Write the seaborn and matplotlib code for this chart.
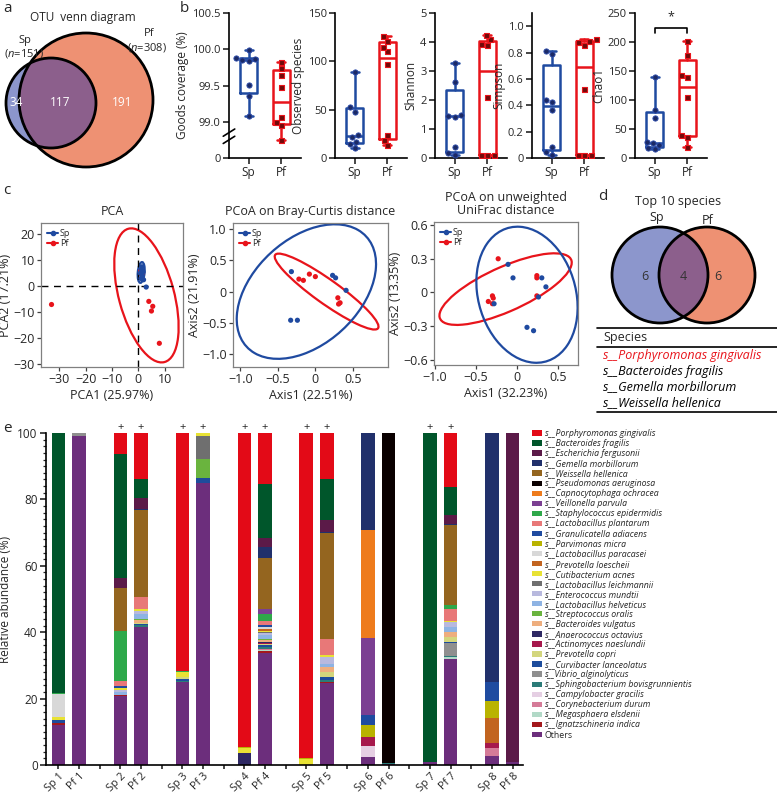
import numpy as np
import pandas as pd
import matplotlib
matplotlib.use("Agg")
import matplotlib.pyplot as plt
import seaborn as sns
from matplotlib.patches import Circle, Ellipse, Patch
from matplotlib.lines import Line2D

# ---------------- data ----------------
# a) OTU venn
otu_n = {"Sp": 151, "Pf": 308}
otu_parts = [34, 117, 191]          # Sp only, shared, Pf only

# b) alpha diversity (8 samples per group)
goods_sp = [99.08, 99.35, 99.51, 99.84, 99.85, 99.86, 99.88, 99.99]
goods_pf = [98.75, 98.95, 99.00, 99.07, 99.48, 99.64, 99.74, 99.83]
obs_sp = [10.0, 14.6, 17.0, 21.5, 24.0, 48.0, 52.8, 88.9]
obs_pf = [13.5, 18.8, 24.0, 96.9, 110.7, 115.0, 121.0, 125.7]
shannon_sp = [0.10, 0.16, 0.39, 1.42, 1.45, 1.48, 2.63, 3.29]
shannon_pf = [0.10, 0.10, 0.10, 2.11, 3.90, 3.93, 4.09, 4.24]
simpson_sp = [0.023, 0.048, 0.085, 0.362, 0.425, 0.443, 0.79, 0.815]
simpson_pf = [0.02, 0.02, 0.02, 0.52, 0.86, 0.878, 0.89, 0.90]
chao1_sp = [15.0, 16.7, 22.4, 25.3, 28.0, 68.4, 82.8, 140.0]
chao1_pf = [19.5, 36.8, 39.7, 105.7, 139.0, 143.0, 177.6, 202.0]

# c) ordinations
pca_sp_x = [0.8, 1.2, 1.5, 1.0, 1.8, 2.0, 1.4, 3.0]
pca_sp_y = [5.0, 6.5, 4.0, 3.0, 5.5, 2.5, 7.5, -0.3]
pca_pf_x = [-33.0, 4.0, 5.5, 5.0, 8.0, 1.2, 1.6, 1.0]
pca_pf_y = [-7.0, -5.8, -7.7, -9.5, -21.9, 4.5, 5.2, 6.0]
bc_sp_x = [-0.32, 0.23, 0.27, 0.41, -0.33, -0.24]
bc_sp_y = [0.32, 0.26, 0.22, 0.02, -0.46, -0.46]
bc_pf_x = [-0.22, -0.16, -0.08, 0.0, 0.30, 0.33, 0.31]
bc_pf_y = [0.20, 0.18, 0.28, 0.24, -0.10, -0.18, -0.20]
uf_sp_x = [-0.11, -0.05, 0.30, 0.35, 0.26, -0.28, 0.12, 0.20]
uf_sp_y = [0.25, 0.13, 0.13, 0.05, -0.04, -0.10, -0.31, -0.34]
uf_pf_x = [-0.23, 0.24, 0.24, 0.24, -0.30, -0.29, -0.35, -0.30]
uf_pf_y = [0.30, 0.15, 0.13, -0.03, -0.03, -0.05, -0.08, -0.10]
# confidence ellipses: centre x, centre y, width, height, angle
pca_ell = {"Sp": (1.1, 5.3, 8.0, 2.6, 85), "Pf": (3.1, -3.5, 53.0, 21.0, -75)}
bc_ell = {"Sp": (-0.12, 0.0, 2.41, 1.52, 55), "Pf": (0.15, 0.0, 1.81, 0.36, -41)}
uf_ell = {"Sp": (0.12, -0.02, 1.33, 1.10, -42.5), "Pf": (-0.14, 0.03, 1.68, 0.41, 17.4)}

# d) top 10 species venn
top10_parts = [6, 4, 6]
shared_species = ["Porphyromonas gingivalis", "Bacteroides fragilis",
                  "Gemella morbillorum", "Weissella hellenica"]

# e) relative abundance
species = ["Porphyromonas gingivalis", "Bacteroides fragilis", "Escherichia fergusonii",
           "Gemella morbillorum", "Weissella hellenica", "Pseudomonas aeruginosa",
           "Capnocytophaga ochracea", "Veillonella parvula", "Staphylococcus epidermidis",
           "Lactobacillus plantarum", "Granulicatella adiacens", "Parvimonas micra",
           "Lactobacillus paracasei", "Prevotella loescheii", "Cutibacterium acnes",
           "Lactobacillus leichmannii", "Enterococcus mundtii", "Lactobacillus helveticus",
           "Streptococcus oralis", "Bacteroides vulgatus", "Anaerococcus octavius",
           "Actinomyces naeslundii", "Prevotella copri", "Curvibacter lanceolatus",
           "Vibrio_alginolyticus", "Sphingobacterium bovisgrunnientis", "Campylobacter gracilis",
           "Corynebacterium durum", "Megasphaera elsdenii", "Ignatzschineria indica", "Others"]
species_colors = ["#E30A17", "#00562B", "#5B1A48", "#21306B", "#94651F", "#0A0000",
                  "#EE7B1C", "#7B3F92", "#2EA84A", "#E87878", "#1F4BA0", "#B9B300",
                  "#D8D8D8", "#C26420", "#E8E234", "#6F6F6F", "#B8B9DE", "#8EB3E3",
                  "#6AB43E", "#EEAE7E", "#2E2863", "#A6184C", "#D3D67D", "#1D4C9C",
                  "#8F8F8F", "#2B7B78", "#E5CFE3", "#D57B98", "#B2D9C7", "#A3181C", "#6C2E7C"]
sample_names = ["Sp 1", "Pf 1", "Sp 2", "Pf 2", "Sp 3", "Pf 3", "Sp 4", "Pf 4",
                "Sp 5", "Pf 5", "Sp 6", "Pf 6", "Sp 7", "Pf 7", "Sp 8", "Pf 8"]
marked_samples = ["Sp 2", "Pf 2", "Sp 3", "Pf 3", "Sp 4", "Pf 4", "Sp 5", "Pf 5", "Sp 7", "Pf 7"]

sp1 = {"Others": 12.0, "Ignatzschineria indica": 0.7, "Curvibacter lanceolatus": 1.0,
       "Cutibacterium acnes": 0.8, "Lactobacillus paracasei": 6.8,
       "Staphylococcus epidermidis": 0.3, "Bacteroides fragilis": 78.4}
pf1 = {"Others": 99.2, "Vibrio_alginolyticus": 0.8}
sp2 = {"Others": 20.8, "Ignatzschineria indica": 0.3, "Granulicatella adiacens": 0.6,
       "Lactobacillus helveticus": 1.0, "Enterococcus mundtii": 0.6, "Cutibacterium acnes": 0.4,
       "Lactobacillus plantarum": 1.5, "Staphylococcus epidermidis": 15.1,
       "Weissella hellenica": 13.0, "Escherichia fergusonii": 3.0,
       "Bacteroides fragilis": 37.5, "Porphyromonas gingivalis": 6.2}
pf2 = {"Others": 41.7, "Sphingobacterium bovisgrunnientis": 0.4, "Curvibacter lanceolatus": 0.4,
       "Prevotella copri": 0.3, "Bacteroides vulgatus": 1.0, "Streptococcus oralis": 0.2,
       "Lactobacillus helveticus": 1.5, "Enterococcus mundtii": 1.0, "Cutibacterium acnes": 0.5,
       "Lactobacillus plantarum": 3.7, "Weissella hellenica": 26.1, "Gemella morbillorum": 0.4,
       "Escherichia fergusonii": 3.3, "Bacteroides fragilis": 5.6, "Porphyromonas gingivalis": 13.9}
sp3 = {"Others": 25.1, "Curvibacter lanceolatus": 0.6, "Sphingobacterium bovisgrunnientis": 0.3,
       "Prevotella copri": 0.4, "Cutibacterium acnes": 1.6, "Staphylococcus epidermidis": 0.2,
       "Porphyromonas gingivalis": 71.8}
pf3 = {"Others": 85.0, "Curvibacter lanceolatus": 1.5, "Streptococcus oralis": 5.7,
       "Lactobacillus leichmannii": 7.0, "Cutibacterium acnes": 0.8}
sp4 = {"Anaerococcus octavius": 3.7, "Cutibacterium acnes": 1.5, "Parvimonas micra": 0.3,
       "Porphyromonas gingivalis": 94.5}
pf4 = {"Others": 33.8, "Ignatzschineria indica": 0.4, "Megasphaera elsdenii": 0.3,
       "Corynebacterium durum": 0.3, "Campylobacter gracilis": 0.2,
       "Sphingobacterium bovisgrunnientis": 0.4, "Vibrio_alginolyticus": 0.2,
       "Curvibacter lanceolatus": 0.4, "Prevotella copri": 0.3, "Actinomyces naeslundii": 0.4,
       "Anaerococcus octavius": 0.4, "Bacteroides vulgatus": 0.6, "Streptococcus oralis": 0.2,
       "Lactobacillus helveticus": 1.4, "Enterococcus mundtii": 0.6,
       "Lactobacillus leichmannii": 0.2, "Cutibacterium acnes": 0.4, "Prevotella loescheii": 0.6,
       "Lactobacillus paracasei": 0.4, "Parvimonas micra": 0.2, "Granulicatella adiacens": 0.4,
       "Lactobacillus plantarum": 1.2, "Staphylococcus epidermidis": 2.2,
       "Veillonella parvula": 1.5, "Weissella hellenica": 15.3, "Gemella morbillorum": 3.5,
       "Escherichia fergusonii": 2.7, "Bacteroides fragilis": 16.0,
       "Porphyromonas gingivalis": 15.5}
sp5 = {"Cutibacterium acnes": 1.8, "Parvimonas micra": 0.3, "Porphyromonas gingivalis": 97.9}
pf5 = {"Others": 24.6, "Ignatzschineria indica": 0.4, "Sphingobacterium bovisgrunnientis": 0.5,
       "Curvibacter lanceolatus": 1.0, "Prevotella copri": 1.5, "Bacteroides vulgatus": 1.5,
       "Lactobacillus helveticus": 1.0, "Enterococcus mundtii": 2.0, "Cutibacterium acnes": 0.5,
       "Lactobacillus plantarum": 4.9, "Weissella hellenica": 31.9, "Gemella morbillorum": 0.5,
       "Escherichia fergusonii": 3.5, "Bacteroides fragilis": 12.2,
       "Porphyromonas gingivalis": 14.0}
sp6 = {"Others": 2.5, "Campylobacter gracilis": 3.2, "Actinomyces naeslundii": 2.8,
       "Parvimonas micra": 3.5, "Granulicatella adiacens": 3.0, "Veillonella parvula": 23.2,
       "Capnocytophaga ochracea": 32.6, "Gemella morbillorum": 29.2}
pf6 = {"Others": 0.2, "Sphingobacterium bovisgrunnientis": 0.4, "Pseudomonas aeruginosa": 99.4}
sp7 = {"Others": 0.8, "Bacteroides fragilis": 99.2}
pf7 = {"Others": 31.8, "Megasphaera elsdenii": 0.7, "Sphingobacterium bovisgrunnientis": 0.3,
       "Vibrio_alginolyticus": 3.8, "Curvibacter lanceolatus": 0.4, "Prevotella copri": 1.5,
       "Bacteroides vulgatus": 1.5, "Lactobacillus helveticus": 1.5, "Enterococcus mundtii": 1.5,
       "Cutibacterium acnes": 0.5, "Lactobacillus plantarum": 3.4,
       "Staphylococcus epidermidis": 1.4, "Weissella hellenica": 24.0,
       "Gemella morbillorum": 0.4, "Escherichia fergusonii": 2.6, "Bacteroides fragilis": 8.5,
       "Porphyromonas gingivalis": 16.2}
sp8 = {"Others": 2.7, "Corynebacterium durum": 2.3, "Actinomyces naeslundii": 1.5,
       "Prevotella loescheii": 7.6, "Parvimonas micra": 5.2, "Granulicatella adiacens": 5.6,
       "Gemella morbillorum": 75.1}
pf8 = {"Others": 0.8, "Sphingobacterium bovisgrunnientis": 0.2, "Escherichia fergusonii": 99.0}
sample_tables = [sp1, pf1, sp2, pf2, sp3, pf3, sp4, pf4, sp5, pf5, sp6, pf6, sp7, pf7, sp8, pf8]

# ---------------- style ----------------
sns.set_theme(style="white")
plt.rcParams["font.family"] = ["Open Sans", "DejaVu Sans"]
plt.rcParams["mathtext.fontset"] = "custom"
plt.rcParams["mathtext.it"] = "Open Sans:italic"
plt.rcParams["mathtext.rm"] = "Open Sans"
plt.rcParams["axes.unicode_minus"] = True

SP_C, PF_C = "#1F4AA0", "#E8141B"
VENN_SP, VENN_PF, VENN_MID = "#8C96CC", "#EE9173", "#8C5F8C"

W, H = 777, 796
fig = plt.figure(figsize=(W / 100, H / 100), dpi=100)


def px_axes(x0, y0, w, h):
    return fig.add_axes([x0 / W, 1 - (y0 + h) / H, w / W, h / H])


# overlay for venns, tables and panel letters (pixel coordinates)
ov = fig.add_axes([0, 0, 1, 1])
ov.set_xlim(0, W)
ov.set_ylim(H, 0)
ov.axis("off")


def venn2(cx1, cx2, cy, r1, r2, cy2=None):
    cy2 = cy if cy2 is None else cy2
    c_pf = Circle((cx2, cy2), r2, facecolor=VENN_PF, edgecolor="none")
    c_sp = Circle((cx1, cy), r1, facecolor=VENN_SP, edgecolor="none")
    ov.add_patch(c_pf)
    ov.add_patch(c_sp)
    mid = Circle((cx1, cy), r1, facecolor=VENN_MID, edgecolor="none")
    ov.add_patch(mid)
    mid.set_clip_path(c_pf)
    for (x, y, r) in [(cx1, cy, r1), (cx2, cy2, r2)]:
        ov.add_patch(Circle((x, y), r, facecolor="none", edgecolor="black", lw=2))


for lab, (x, y) in zip("abcde", [(3, 9), (180, 9), (3, 190), (598, 197), (3, 428)]):
    ov.text(x, y, lab, fontsize=11, va="center", ha="left")

# ---- a ----
ov.text(83, 17, "OTU  venn diagram", fontsize=8.5, ha="center", va="center")
venn2(51, 86, 103, 45, 67, cy2=100)
ov.text(25, 40, "Sp", fontsize=8, ha="center", va="center")
ov.text(24, 53, "($\\it{n}$=%d)" % otu_n["Sp"], fontsize=8, ha="center", va="center")
ov.text(149, 34, "Pf", fontsize=8, ha="center", va="center")
ov.text(147, 47, "($\\it{n}$=%d)" % otu_n["Pf"], fontsize=8, ha="center", va="center")
for x, v in zip([16, 60, 122], otu_parts):
    ov.text(x, 103, str(v), color="white", fontsize=8.5, ha="center", va="center")

# ---- b ----
def prism_stats(vals):
    v = np.asarray(vals, dtype=float)
    q1, med, q3 = np.percentile(v, [25, 50, 75], method="weibull")
    return dict(med=med, q1=q1, q3=q3, whislo=v.min(), whishi=v.max(), fliers=[])


alpha_sets = [
    ("Goods coverage (%)", goods_sp, goods_pf, (98.5, 100.5), [98.5, 99.0, 99.5, 100.0, 100.5],
     ["0", "99.0", "99.5", "100.0", "100.5"], 229),
    ("Observed species", obs_sp, obs_pf, (0, 150), [0, 50, 100, 150], None, 335),
    ("Shannon", shannon_sp, shannon_pf, (0, 5), [0, 1, 2, 3, 4, 5], None, 435),
    ("Simpson", simpson_sp, simpson_pf, (0, 1.1), [0, 0.2, 0.4, 0.6, 0.8, 1.0],
     ["0", "0.2", "0.4", "0.6", "0.8", "1.0"], 532),
    ("Chao1", chao1_sp, chao1_pf, (0, 250), [0, 50, 100, 150, 200, 250], None, 635),
]
for ylab, vsp, vpf, ylim, yt, ytl, x0 in alpha_sets:
    ax = px_axes(x0, 13, 72, 145)
    arts = ax.bxp([prism_stats(vsp), prism_stats(vpf)], positions=[0, 1], widths=0.5,
                  showfliers=False, capwidths=0.25)
    for i, c in enumerate([SP_C, PF_C]):
        for a in [arts["boxes"][i], arts["medians"][i]]:
            a.set_color(c); a.set_linewidth(1.8)
        for a in arts["whiskers"][2 * i:2 * i + 2] + arts["caps"][2 * i:2 * i + 2]:
            a.set_color(c); a.set_linewidth(1.8)
    df = pd.DataFrame({"group": ["Sp"] * len(vsp) + ["Pf"] * len(vpf), "value": vsp + vpf})
    sns.swarmplot(data=df[df.group == "Sp"], x="group", y="value", order=["Sp", "Pf"],
                  color="#1B2A66", size=3.8, marker="o", edgecolor="#3050B0", linewidth=0.6, ax=ax)
    sns.swarmplot(data=df[df.group == "Pf"], x="group", y="value", order=["Sp", "Pf"],
                  color="#700A0A", size=3.6, marker="s", edgecolor=PF_C, linewidth=0.8, ax=ax)
    ax.set_xlim(-0.6, 1.6)
    ax.set_ylim(*ylim)
    ax.set_yticks(yt)
    if ytl:
        ax.set_yticklabels(ytl)
    ax.set_xticks([0, 1])
    ax.set_xticklabels(["Sp", "Pf"])
    ax.set_xlabel("")
    ax.set_ylabel(ylab, fontsize=8.5, labelpad=2)
    sns.despine(ax=ax)
    for s in ["left", "bottom"]:
        ax.spines[s].set_linewidth(1.2)
        ax.spines[s].set_color("black")
    ax.tick_params(axis="both", direction="out", length=4, width=1.2, labelsize=8, pad=2,
                   left=True, bottom=True)
    ax.tick_params(axis="x", labelsize=8.5)
    ax.set_facecolor("none")
    if ylab.startswith("Goods"):
        for dy in (0.0, 0.05):
            ax.plot([-0.08, 0.08], [0.10 + dy, 0.15 + dy], transform=ax.transAxes,
                    color="black", lw=1.2, clip_on=False)
    if ylab == "Chao1":
        ax.plot([0, 0, 1, 1], [216, 224, 224, 216], color="black", lw=1.2, clip_on=False)
        ax.text(0.5, 232, "*", ha="center", va="bottom", fontsize=9)

# ---- c ----
ord_sets = [
    ("PCA", pca_sp_x, pca_sp_y, pca_pf_x, pca_pf_y, pca_ell, (-37, 17), (-31, 24.3),
     [-30, -20, -10, 0, 10], [-30, -20, -10, 0, 10, 20], None, None,
     "PCA1 (25.97%)", "PCA2 (17.21%)", (41, 223, 142, 144)),
    ("PCoA on Bray-Curtis distance", bc_sp_x, bc_sp_y, bc_pf_x, bc_pf_y, bc_ell,
     (-1.1, 0.97), (-1.21, 1.1), [-1.0, -0.5, 0, 0.5], [-1.0, -0.5, 0, 0.5, 1.0],
     ["−1.0", "−0.5", "0", "0.5"], ["−1.0", "−0.5", "0", "0.5", "1.0"],
     "Axis1 (22.51%)", "Axis2 (21.91%)", (233, 223, 155, 144)),
    ("PCoA on unweighted\nUniFrac distance", uf_sp_x, uf_sp_y, uf_pf_x, uf_pf_y, uf_ell,
     (-1.01, 0.74), (-0.645, 0.627), [-1.0, -0.5, 0, 0.5], [-0.6, -0.3, 0, 0.3, 0.6],
     ["−1.0", "−0.5", "0", "0.5"], ["−0.6", "−0.3", "0", "0.3", "0.6"],
     "Axis1 (32.23%)", "Axis2 (13.35%)", (434, 222, 144, 143)),
]
for (title, sx, sy, pxv, pyv, ell, xl, yl, xt, yt, xtl, ytl, xlab, ylab, rect) in ord_sets:
    ax = px_axes(*rect)
    df = pd.DataFrame({"x": pxv + sx, "y": pyv + sy,
                       "group": ["Pf"] * len(pxv) + ["Sp"] * len(sx)})
    if title == "PCA":
        ax.axhline(0, color="black", ls=(0, (5, 4)), lw=1)
        ax.axvline(0, color="black", ls=(0, (5, 4)), lw=1)
    sns.scatterplot(data=df, x="x", y="y", hue="group", palette={"Sp": SP_C, "Pf": PF_C},
                    s=14, linewidth=0, legend=False, ax=ax, zorder=3)
    for g, c in [("Pf", PF_C), ("Sp", SP_C)]:
        ex, ey, ew, eh, ea = ell[g]
        ax.add_patch(Ellipse((ex, ey), ew, eh, angle=ea, facecolor="none", edgecolor=c, lw=1.6))
    ax.set_xlim(*xl)
    ax.set_ylim(*yl)
    ax.set_xticks(xt)
    ax.set_yticks(yt)
    if xtl:
        ax.set_xticklabels(xtl)
        ax.set_yticklabels(ytl)
    ax.set_xlabel(xlab, fontsize=9, labelpad=2)
    ax.set_ylabel(ylab, fontsize=9, labelpad=1)
    ax.set_title(title, fontsize=9, pad=6, linespacing=1.0)
    for s in ax.spines.values():
        s.set_color("#808080")
        s.set_linewidth(0.9)
    ax.tick_params(axis="both", direction="out", length=3, width=0.9, labelsize=9, pad=1.5,
                   left=True, bottom=True, color="#404040")
    hnd = [Line2D([0], [0], color=SP_C, marker="o", ms=3, lw=1.5),
           Line2D([0], [0], color=PF_C, marker="o", ms=3, lw=1.5)]
    ax.legend(hnd, ["Sp", "Pf"], loc="upper left", frameon=False, fontsize=6.5,
              handlelength=1.2, handletextpad=0.2, labelspacing=0.05, borderaxespad=0.3)

# ---- d ----
ov.text(678, 202, "Top 10 species", fontsize=9, ha="center", va="center")
ov.text(657, 218, "Sp", fontsize=9, ha="center", va="center")
ov.text(708, 220, "Pf", fontsize=9, ha="center", va="center")
venn2(660, 707, 275, 48, 48)
for x, v in zip([645, 683, 718], top10_parts):
    ov.text(x, 276, str(v), color="#333333", fontsize=9, ha="center", va="center")
for y in (328, 347, 412):
    ov.plot([597, 777], [y, y], color="black", lw=1.2)
ov.text(603, 337, "Species", fontsize=9, va="center")
for i, nm in enumerate(shared_species):
    ov.text(603, 355 + 16 * i, "s__" + nm, fontsize=9, va="center", style="italic",
            color=PF_C if i == 0 else "black")

# ---- e ----
abund = pd.DataFrame(sample_tables, index=sample_names).reindex(columns=species).fillna(0)
slots = np.array([(i // 2) * 3 + i % 2 for i in range(len(sample_names))])
axe = px_axes(46, 433, 477, 332)
bottom = np.zeros(len(sample_names))
for sp, col in zip(species[::-1], species_colors[::-1]):
    vals = abund[sp].values
    axe.bar(slots, vals, bottom=bottom, width=0.65, color=col, linewidth=0)
    bottom += vals
for nm in marked_samples:
    axe.text(slots[sample_names.index(nm)], 101.8, "+", ha="center", va="center",
             fontsize=8, clip_on=False)
axe.set_xlim(-0.6, 22.5)
axe.set_ylim(0, 100)
axe.set_yticks([0, 20, 40, 60, 80, 100])
axe.set_yticks(np.arange(0, 101, 2), minor=True)
axe.set_xticks(np.arange(0, 23))
xlabels = [""] * 23
for nm, s in zip(sample_names, slots):
    xlabels[s] = nm
axe.set_xticklabels(xlabels, rotation=45, ha="right", rotation_mode="anchor", fontsize=7.8)
axe.set_ylabel("Relative abundance (%)", fontsize=8.5, labelpad=4)
sns.despine(ax=axe)
for s in ["left", "bottom"]:
    axe.spines[s].set_linewidth(1.2)
    axe.spines[s].set_color("black")
axe.tick_params(axis="both", which="major", direction="out", length=4, width=1.2,
                labelsize=8.5, pad=2, left=True, bottom=True)
axe.tick_params(axis="y", which="minor", direction="out", length=2.5, width=0.9, left=True)
axe.tick_params(axis="x", which="major", length=3, pad=1, labelsize=7.8)
axe.set_facecolor("none")

handles = [Patch(facecolor=c, edgecolor="none") for c in species_colors]
labels = ["s__" + s for s in species[:-1]] + ["Others"]
leg = fig.legend(handles, labels, loc="upper left", bbox_to_anchor=(532 / W, 1 - 429 / H),
                 frameon=False, fontsize=6.3, handlelength=1.1, handleheight=0.55,
                 handletextpad=0.35, labelspacing=0.12, borderpad=0, borderaxespad=0)
for t in leg.get_texts()[:-1]:
    t.set_style("italic")

fig.savefig("out.png", dpi=100)
